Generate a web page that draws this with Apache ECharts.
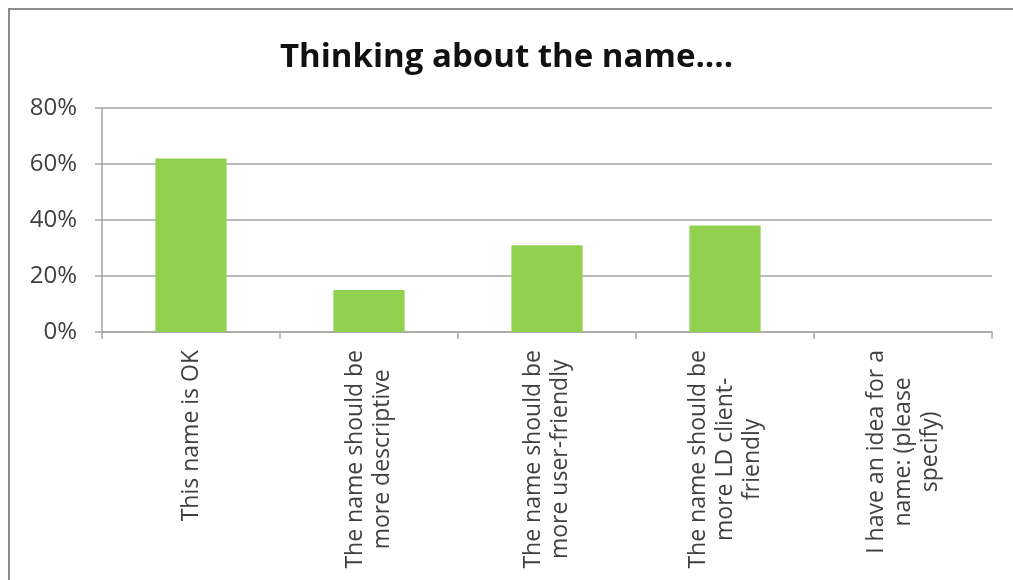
<!DOCTYPE html>
<html>
<head>
<meta charset="utf-8">
<script src="https://cdn.jsdelivr.net/npm/echarts@6/dist/echarts.min.js"></script>
<style>
  html, body { margin: 0; padding: 0; background: #fff; }
  #chart { width: 1013px; height: 580px; }
</style>
</head>
<body>
<div id="chart"></div>
<script>
const titleText = 'Thinking about the name....'
const categories = [
  'This name is OK',
  'The name should be\nmore descriptive',
  'The name should be\nmore user-friendly',
  'The name should be\nmore LD client-\nfriendly',
  'I have an idea for a\nname: (please\nspecify)'
]
const values = [62, 15, 31, 38, 0]
const yTicks = [0, 20, 40, 60, 80]

const labelFont = '23px "Open Sans"'
const frame = {
  type: 'rect',
  shape: { x: 9, y: 9, width: 1100, height: 700 },
  style: { fill: 'none', stroke: '#8c8c8c', lineWidth: 2 },
  z: -1
}

const chart = echarts.init(document.getElementById('chart'))
const option = {
  animation: false,
  backgroundColor: '#fff',
  graphic: [frame],
  title: {
    text: titleText,
    left: 'center',
    top: 36,
    textStyle: {
      fontFamily: 'Open Sans',
      fontSize: 33,
      fontWeight: 'bold',
      color: '#111'
    }
  },
  grid: {
    left: 102,
    right: 21,
    top: 108,
    bottom: 248,
    containLabel: false
  },
  xAxis: {
    type: 'category',
    data: categories,
    axisLine: { lineStyle: { color: '#a6a6a6', width: 1.5 } },
    axisTick: { show: true, length: 7, lineStyle: { color: '#a6a6a6', width: 1.5 } },
    // labels drawn below as rotated texts with centred lines
    axisLabel: { show: false }
  },
  yAxis: {
    type: 'value',
    min: 0,
    max: 80,
    interval: 20,
    axisLine: { show: true, lineStyle: { color: '#a6a6a6', width: 1.5 } },
    axisTick: { show: true, length: 7, lineStyle: { color: '#a6a6a6', width: 1.5 } },
    splitLine: { show: true, lineStyle: { color: '#a6a6a6', width: 1.5 } },
    axisLabel: {
      margin: 25,
      formatter: v => yTicks.includes(v) ? v + '%' : '',
      fontFamily: 'Open Sans',
      fontSize: 24,
      color: '#404040'
    }
  },
  series: [{
    type: 'bar',
    data: values,
    barWidth: '40%',
    itemStyle: { color: '#92d050' }
  }]
}
chart.setOption(option)

// category labels: rotated 90deg, lines centred on each other, block ending near the axis
const ctx = document.createElement('canvas').getContext('2d')
ctx.font = labelFont
const axisY = chart.convertToPixel({ yAxisIndex: 0 }, 0)
const labels = categories.map((c, i) => {
  const w = Math.max(...c.split('\n').map(l => ctx.measureText(l).width))
  return {
    type: 'text',
    x: chart.convertToPixel({ xAxisIndex: 0 }, i),
    y: axisY + 18 + w / 2,
    rotation: Math.PI / 2,
    style: {
      text: c,
      font: labelFont,
      lineHeight: 27,
      align: 'center',
      verticalAlign: 'middle',
      fill: '#404040'
    }
  }
})
chart.setOption({ graphic: [frame].concat(labels) })
</script>
</body>
</html>
